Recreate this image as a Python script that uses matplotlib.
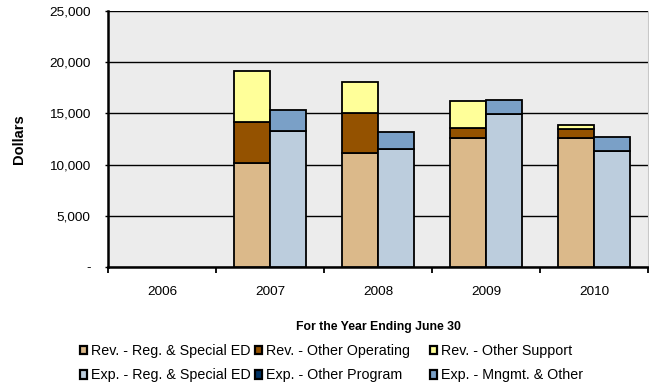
import numpy as np
import matplotlib
matplotlib.use("Agg")
import matplotlib.pyplot as plt
from matplotlib.patches import Patch

plt.rcParams['font.family'] = ['Liberation Sans', 'DejaVu Sans']

years = ['2006', '2007', '2008', '2009', '2010']

# revenue stack (dollars)
rev_reg_special = [0, 10150, 11150, 12550, 12550]
rev_other_operating = [0, 4000, 3850, 1000, 950]
rev_other_support = [0, 5000, 3100, 2650, 350]

# expense stack (dollars)
exp_reg_special = [0, 13300, 11500, 14900, 11300]
exp_other_program = [0, 0, 0, 0, 0]
exp_mngmt_other = [0, 2050, 1650, 1400, 1350]

c_rev_reg = '#DBB98A'
c_rev_op = '#945200'
c_rev_sup = '#FFFF99'
c_exp_reg = '#BCCDDD'
c_exp_prog = '#003366'
c_exp_mng = '#7AA0C7'

fig = plt.figure(figsize=(6.49, 3.90), dpi=100)
ax = fig.add_axes([108 / 649, 123 / 390, 540 / 649, 256 / 390])
ax.set_facecolor('#ECECEC')

x = np.arange(len(years))
w = 1 / 3
edge = dict(edgecolor='black', linewidth=1.3, zorder=3)


def stack(ax, xpos, series, colors):
    # draw one stacked column, skipping empty segments
    base = np.zeros(len(xpos))
    for vals, col in zip(series, colors):
        vals = np.array(vals, dtype=float)
        keep = vals > 0
        ax.bar(xpos[keep], vals[keep], w, bottom=base[keep], color=col, **edge)
        base = base + vals


stack(ax, x - w / 2, [rev_reg_special, rev_other_operating, rev_other_support],
      [c_rev_reg, c_rev_op, c_rev_sup])
stack(ax, x + w / 2, [exp_reg_special, exp_other_program, exp_mngmt_other],
      [c_exp_reg, c_exp_prog, c_exp_mng])

ax.set_xlim(-0.5, len(years) - 0.5)
ax.set_ylim(0, 25000)
ax.set_yticks(np.arange(0, 25001, 5000))
ax.set_yticklabels(['-'] + [f'{v:,}' for v in range(5000, 25001, 5000)])
ax.yaxis.grid(True, color='black', linewidth=1.0, zorder=1)
ax.set_axisbelow(True)

# tick marks between years, labels centred on each year
ax.set_xticks(np.arange(-0.5, len(years), 1))
ax.set_xticklabels([])
ax.set_xticks(x, minor=True)
ax.set_xticklabels(years, minor=True)
ax.tick_params(axis='x', which='major', direction='out', length=4, width=1.3)
ax.tick_params(axis='x', which='minor', length=0, pad=14, labelsize=9.7)
ax.tick_params(axis='y', direction='out', length=2.5, width=1.0, pad=10, labelsize=9.7)

for side in ['top', 'right']:
    ax.spines[side].set_visible(False)
ax.spines['right'].set_visible(True)
ax.spines['right'].set_color('#C8C8C8')
ax.spines['right'].set_linewidth(0.8)
ax.spines['left'].set_linewidth(1.8)
ax.spines['bottom'].set_linewidth(1.8)

ax.set_ylabel('Dollars', fontsize=10.5, fontweight='bold', labelpad=17)
fig.text(378 / 649, 1 - 327 / 390, 'For the Year Ending June 30',
         ha='center', va='center', fontsize=8.8, fontweight='bold')

# legend: three columns of two entries
cols = [
    [('Rev. - Reg. & Special ED', c_rev_reg), ('Exp. - Reg. & Special ED', c_exp_reg)],
    [('Rev. - Other Operating', c_rev_op), ('Exp. - Other Program', c_exp_prog)],
    [('Rev. - Other Support', c_rev_sup), ('Exp. - Mngmt. & Other', c_exp_mng)],
]
col_x = [80, 255, 430]
for cx, entries in zip(col_x, cols):
    handles = [Patch(facecolor=c, edgecolor='black', linewidth=1.6) for _, c in entries]
    labels = [t for t, _ in entries]
    fig.legend(handles, labels, loc='upper left',
               bbox_to_anchor=(cx / 649, 1 - 344 / 390),
               frameon=False, fontsize=10.3, handlelength=0.5, handleheight=0.55,
               handletextpad=0.3, labelspacing=0.72, borderpad=0, borderaxespad=0)

fig.savefig('out.png', dpi=100)
